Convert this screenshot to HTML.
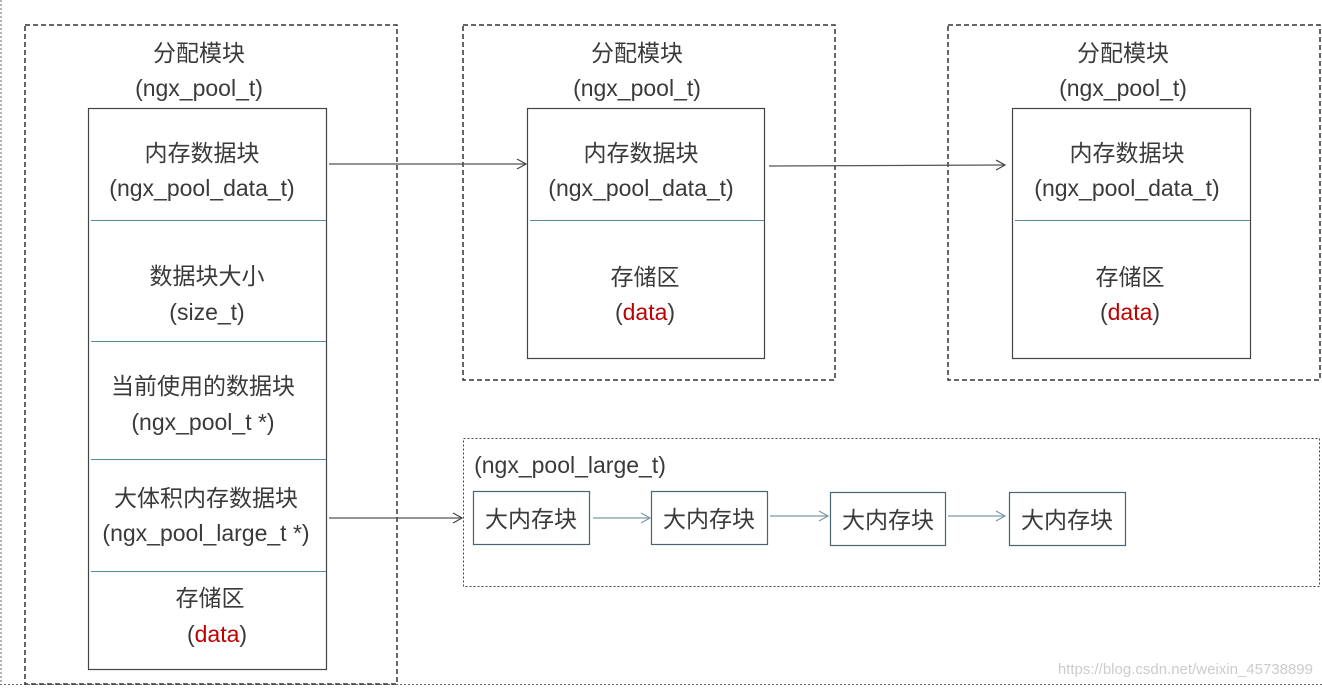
<!DOCTYPE html>
<html><head><meta charset="utf-8"><style>
html,body{margin:0;padding:0;background:#fff}
svg text{font-family:"Liberation Sans","Noto Sans CJK SC",sans-serif;font-size:23px;fill:#3a3a3a;text-anchor:middle}
</style></head><body>
<svg width="1322" height="687" viewBox="0 0 1322 687" xmlns="http://www.w3.org/2000/svg">
<defs>
<marker id="a" markerWidth="12" markerHeight="12" refX="10" refY="6" orient="auto" markerUnits="userSpaceOnUse"><path d="M1,1 L10,6 L1,11" fill="none" stroke="#444" stroke-width="1.2"/></marker>
<marker id="b" markerWidth="12" markerHeight="12" refX="10" refY="6" orient="auto" markerUnits="userSpaceOnUse"><path d="M1,1 L10,6 L1,11" fill="none" stroke="#7a9aa5" stroke-width="1.2"/></marker>
</defs>
<line x1="1" y1="0" x2="1" y2="684" stroke="#666" stroke-dasharray="2,2"/>
<line x1="0" y1="684.5" x2="1322" y2="684.5" stroke="#666" stroke-dasharray="2,2"/>
<g fill="none" stroke="#333" stroke-width="1.5" stroke-dasharray="5,3">
<rect x="25" y="25" width="372" height="659"/>
<rect x="463" y="25" width="372" height="355"/>
<rect x="948" y="25" width="372" height="355"/>
</g>
<rect x="463.5" y="438.5" width="856" height="148" fill="none" stroke="#444" stroke-dasharray="2,2"/>
<g fill="none" stroke="#444" stroke-width="1.2">
<rect x="88.5" y="108.5" width="238" height="561"/>
<rect x="527.5" y="108.5" width="237" height="250"/>
<rect x="1012.5" y="108.5" width="238" height="250"/>
</g>
<g stroke="#5a8a9a" stroke-width="1">
<line x1="91" y1="220.5" x2="326" y2="220.5"/>
<line x1="91" y1="341.5" x2="326" y2="341.5"/>
<line x1="91" y1="459.5" x2="326" y2="459.5"/>
<line x1="91" y1="571.5" x2="326" y2="571.5"/>
<line x1="530" y1="220.5" x2="764" y2="220.5"/>
<line x1="1015" y1="220.5" x2="1250" y2="220.5"/>
</g>
<g fill="none" stroke="#4a6470" stroke-width="1.2">
<rect x="473.5" y="491.5" width="116" height="53"/>
<rect x="651.5" y="491.5" width="116" height="53"/>
<rect x="830.5" y="492.5" width="115" height="53"/>
<rect x="1009.5" y="492.5" width="116" height="53"/>
</g>
<g stroke="#555" stroke-width="1.3">
<line x1="329" y1="164" x2="526" y2="164" marker-end="url(#a)"/>
<line x1="769" y1="166" x2="1005" y2="165" marker-end="url(#a)"/>
<line x1="329" y1="518" x2="462" y2="518" marker-end="url(#a)"/>
</g>
<g stroke="#7a9aa5" stroke-width="1.3">
<line x1="593" y1="518" x2="650" y2="518" marker-end="url(#b)"/>
<line x1="770" y1="516" x2="828" y2="516" marker-end="url(#b)"/>
<line x1="948" y1="516" x2="1005" y2="516" marker-end="url(#b)"/>
</g>
<text x="199" y="61">分配模块</text><text x="199" y="96">(ngx_pool_t)</text>
<text x="202" y="161">内存数据块</text><text x="202" y="196">(ngx_pool_data_t)</text>
<text x="207" y="284">数据块大小</text><text x="207" y="320">(size_t)</text>
<text x="203" y="394">当前使用的数据块</text><text x="203" y="430">(ngx_pool_t *)</text>
<text x="206" y="506">大体积内存数据块</text><text x="206" y="541">(ngx_pool_large_t *)</text>
<text x="210" y="606">存储区</text><text x="217" y="642">(<tspan fill="#c00000">data</tspan>)</text>
<text x="637" y="61">分配模块</text><text x="637" y="96">(ngx_pool_t)</text>
<text x="641" y="161">内存数据块</text><text x="641" y="196">(ngx_pool_data_t)</text>
<text x="645" y="285">存储区</text><text x="645" y="320">(<tspan fill="#c00000">data</tspan>)</text>
<text x="1123" y="61">分配模块</text><text x="1123" y="96">(ngx_pool_t)</text>
<text x="1127" y="161">内存数据块</text><text x="1127" y="196">(ngx_pool_data_t)</text>
<text x="1130" y="285">存储区</text><text x="1130" y="320">(<tspan fill="#c00000">data</tspan>)</text>
<text x="570" y="473">(ngx_pool_large_t)</text>
<text x="531" y="527">大内存块</text>
<text x="709" y="527">大内存块</text>
<text x="888" y="528">大内存块</text>
<text x="1067" y="528">大内存块</text>
<text x="1313" y="674" style="font-size:15px;fill:#ccc;text-anchor:end">https://blog.csdn.net/weixin_45738899</text>
</svg>
</body></html>
